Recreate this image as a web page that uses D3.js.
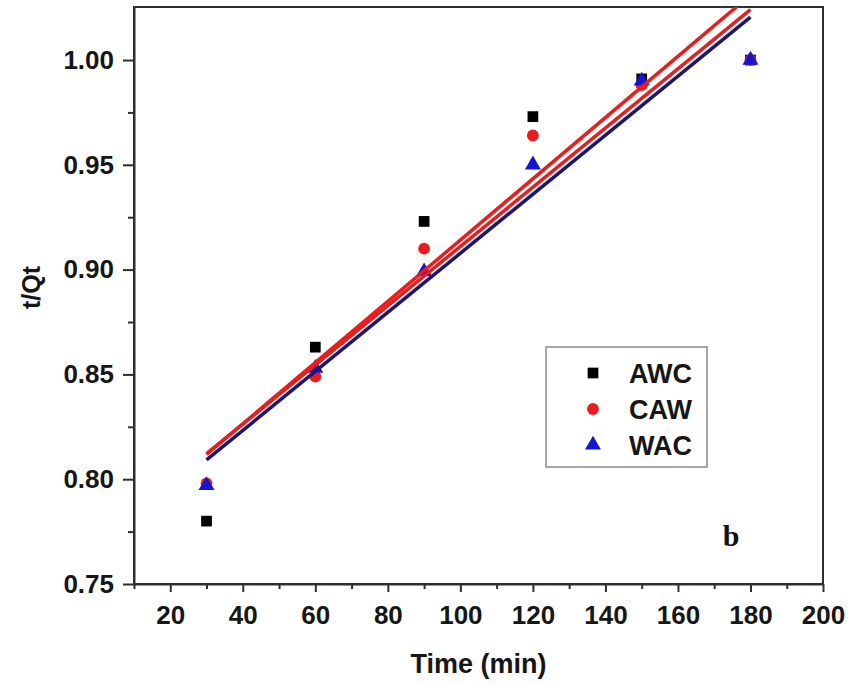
<!DOCTYPE html>
<html>
<head>
<meta charset="utf-8">
<script src="https://cdn.jsdelivr.net/npm/d3@7"></script>
<style>
  html, body { margin: 0; padding: 0; background: #fff; }
  svg { display: block; }
  text { font-family: "Liberation Sans", Arial, sans-serif; }
</style>
</head>
<body>
<svg id="chart" width="865" height="686"></svg>
<script>
// Sampling times (min)
const times = [30, 60, 90, 120, 150, 180];

// t/Qt for each sample
const awc = [0.780, 0.863, 0.923, 0.973, 0.991, 1.000];
const caw = [0.798, 0.849, 0.910, 0.964, 0.988, 1.000];
const wac = [0.797, 0.853, 0.899, 0.950, 0.990, 1.000];

// Linear fit lines: value at t = 30 and at t = 180
const fitTimes = [30, 180];
const awcFit = [0.8118, 1.0310];
const cawFit = [0.8122, 1.0240];
const wacFit = [0.8092, 1.0205];

// Axis ticks
const xTicks = [20, 40, 60, 80, 100, 120, 140, 160, 180, 200];
const xMinor = [10, 30, 50, 70, 90, 110, 130, 150, 170, 190];
const yTicks = [0.75, 0.80, 0.85, 0.90, 0.95, 1.00];
const yMinor = [0.775, 0.825, 0.875, 0.925, 0.975];

const seriesNames = ["AWC", "CAW", "WAC"];

const svg = d3.select("#chart");
const plot = { left: 134, right: 823, top: 7, bottom: 584 };

const x = d3.scaleLinear().domain([10, 200]).range([plot.left, plot.right]);
const y = d3.scaleLinear().domain([0.75, 1.0253]).range([plot.bottom, plot.top]);

const axisColor = "#2e2e2e";
const textColor = "#161616";

// Frame (top and right edges)
svg.append("rect")
  .attr("x", plot.left).attr("y", plot.top)
  .attr("width", plot.right - plot.left).attr("height", plot.bottom - plot.top)
  .attr("fill", "none").attr("stroke", axisColor).attr("stroke-width", 2);

// Bottom axis
svg.append("g").attr("transform", `translate(0,${plot.bottom})`)
  .call(d3.axisBottom(x).tickValues(xTicks).tickSize(8).tickSizeOuter(0).tickPadding(14).tickFormat(d3.format("d")));
svg.append("g").attr("transform", `translate(0,${plot.bottom})`)
  .call(d3.axisBottom(x).tickValues(xMinor).tickSize(5).tickSizeOuter(0).tickFormat(""))
  .call(g => g.select(".domain").remove());

// Left axis
svg.append("g").attr("transform", `translate(${plot.left},0)`)
  .call(d3.axisLeft(y).tickValues(yTicks).tickSize(11).tickSizeOuter(0).tickPadding(9).tickFormat(d3.format(".2f")));
svg.append("g").attr("transform", `translate(${plot.left},0)`)
  .call(d3.axisLeft(y).tickValues(yMinor).tickSize(6).tickSizeOuter(0).tickFormat(""))
  .call(g => g.select(".domain").remove());

svg.selectAll(".domain").attr("stroke", axisColor).attr("stroke-width", 2);
svg.selectAll(".tick line").attr("stroke", axisColor).attr("stroke-width", 2);
svg.selectAll(".tick text")
  .attr("fill", textColor)
  .style("font-size", "26px")
  .style("font-weight", "bold")
  .style("font-family", "'Liberation Sans', Arial, sans-serif");

// Axis titles
svg.append("text")
  .attr("x", (plot.left + plot.right) / 2).attr("y", 673)
  .attr("text-anchor", "middle")
  .style("font-size", "27px").style("font-weight", "bold").attr("fill", textColor)
  .text("Time (min)");

svg.append("text")
  .attr("transform", `translate(40,${(plot.top + plot.bottom) / 2 - 8}) rotate(-90)`)
  .attr("text-anchor", "middle")
  .style("font-size", "25px").style("font-weight", "bold").attr("fill", textColor)
  .text("t/Qt");

// Clip for data
svg.append("clipPath").attr("id", "plot-clip")
  .append("rect")
  .attr("x", plot.left).attr("y", plot.top)
  .attr("width", plot.right - plot.left).attr("height", plot.bottom - plot.top);

const dataG = svg.append("g").attr("clip-path", "url(#plot-clip)");

const red = "#ec1c1c";
const blue = "#1414d2";
const navy = "#1b1672";

const sym = {
  square: d3.symbol().type(d3.symbolSquare).size(115),
  circle: d3.symbol().type(d3.symbolCircle).size(110),
  triangle: d3.symbol().type(d3.symbolTriangle).size(110)
};

const series = [
  { name: "AWC", values: awc, shape: sym.square, color: "#000000" },
  { name: "CAW", values: caw, shape: sym.circle, color: red },
  { name: "WAC", values: wac, shape: sym.triangle, color: blue }
];

// Markers
series.forEach(s => {
  dataG.append("g").selectAll("path")
    .data(times.map((t, i) => [t, s.values[i]]))
    .join("path")
    .attr("d", s.shape)
    .attr("transform", d => `translate(${x(d[0])},${y(d[1])})`)
    .attr("fill", s.color);
});

// Fit lines
const fits = [
  { values: wacFit, color: navy },
  { values: cawFit, color: red },
  { values: awcFit, color: red }
];
const line = d3.line().x(d => x(d[0])).y(d => y(d[1]));
fits.forEach(f => {
  dataG.append("path")
    .datum(fitTimes.map((t, i) => [t, f.values[i]]))
    .attr("d", line)
    .attr("fill", "none")
    .attr("stroke", f.color)
    .attr("stroke-width", 3.5);
});

// Legend
const legend = svg.append("g");
legend.append("rect")
  .attr("x", 546).attr("y", 347).attr("width", 161).attr("height", 120)
  .attr("fill", "#fff").attr("stroke", "#8a8a8a").attr("stroke-width", 1.5);
series.forEach((s, i) => {
  const cy = 373 + i * 36;
  legend.append("path").attr("d", s.shape).attr("transform", `translate(593,${cy})`).attr("fill", s.color);
  legend.append("text")
    .attr("x", 629).attr("y", cy + 10)
    .style("font-size", "27px").style("font-weight", "bold").attr("fill", textColor)
    .text(seriesNames[i]);
});

// Panel label
svg.append("text")
  .attr("x", 731).attr("y", 546)
  .attr("text-anchor", "middle")
  .style("font-family", "'Liberation Serif', 'Times New Roman', serif")
  .style("font-size", "30px").style("font-weight", "bold").attr("fill", "#111")
  .text("b");
</script>
</body>
</html>
